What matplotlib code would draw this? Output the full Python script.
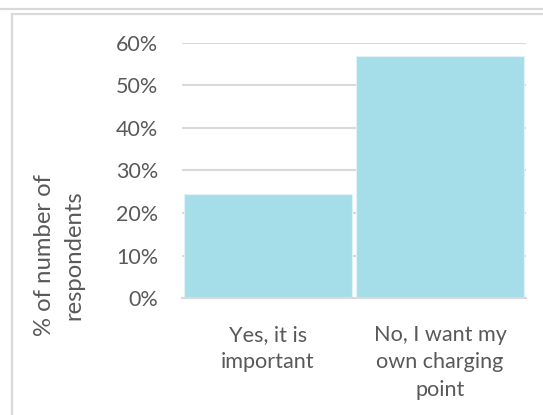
import matplotlib
matplotlib.use("Agg")
import matplotlib.pyplot as plt
from matplotlib.lines import Line2D
from matplotlib.ticker import FuncFormatter

categories = ["Yes, it is\nimportant", "No, I want my\nown charging\npoint"]
shares = [0.246, 0.569]
y_ticks = [0.0, 0.1, 0.2, 0.3, 0.4, 0.5, 0.6]
y_label = "% of number of\nrespondents"

FONT = "Lato"
TEXT = "#595959"
GRID = "#d9d9d9"
BAR = "#a5dee8"

W, H = 543, 415
fig = plt.figure(figsize=(W / 100, H / 100), dpi=100)
fig.patch.set_facecolor("white")

# outer chart frame lines
fig.add_artist(Line2D([0, 1], [1 - 9.5 / H, 1 - 9.5 / H], color=GRID, lw=1.6,
                      transform=fig.transFigure))
fig.add_artist(Line2D([12 / W, 1], [1 - 14 / H, 1 - 14 / H], color=GRID, lw=1.6,
                      transform=fig.transFigure))
fig.add_artist(Line2D([12 / W, 12 / W], [0, 1 - 14 / H], color=GRID, lw=1.6,
                      transform=fig.transFigure))

ax = fig.add_axes([182 / W, 116.7 / H, 344 / W, 255.6 / H])
x = list(range(len(categories)))
ax.bar(x, shares, width=0.975, color=BAR, edgecolor="#dff3f7", linewidth=0.8, zorder=2)

ax.set_xlim(-0.5, len(categories) - 0.5)
ax.set_ylim(y_ticks[0], y_ticks[-1])
ax.set_yticks(y_ticks)
ax.yaxis.set_major_formatter(FuncFormatter(lambda v, _: f"{v * 100:.0f}%"))
ax.grid(axis="y", color=GRID, lw=1.5, zorder=0)
ax.set_axisbelow(True)

for side in ("top", "right", "left"):
    ax.spines[side].set_visible(False)
ax.spines["bottom"].set_color(GRID)
ax.spines["bottom"].set_linewidth(1.6)
ax.spines["bottom"].set_zorder(3)

ax.tick_params(axis="both", length=0, colors=TEXT)
ax.tick_params(axis="y", pad=17, labelsize=15.5)
ax.tick_params(axis="x", pad=19)
ax.set_xticks(x)
ax.set_xticklabels(categories, fontfamily=FONT, color=TEXT, fontsize=15.6,
                   linespacing=1.48)
for lab in ax.get_yticklabels():
    lab.set_fontfamily(FONT)

fig.text(59 / W, 1 - 255 / H, y_label, rotation=90, ha="center", va="center",
         fontfamily=FONT, fontsize=17.2, color=TEXT, linespacing=1.47)

fig.savefig("out.png", dpi=100, facecolor="white")
